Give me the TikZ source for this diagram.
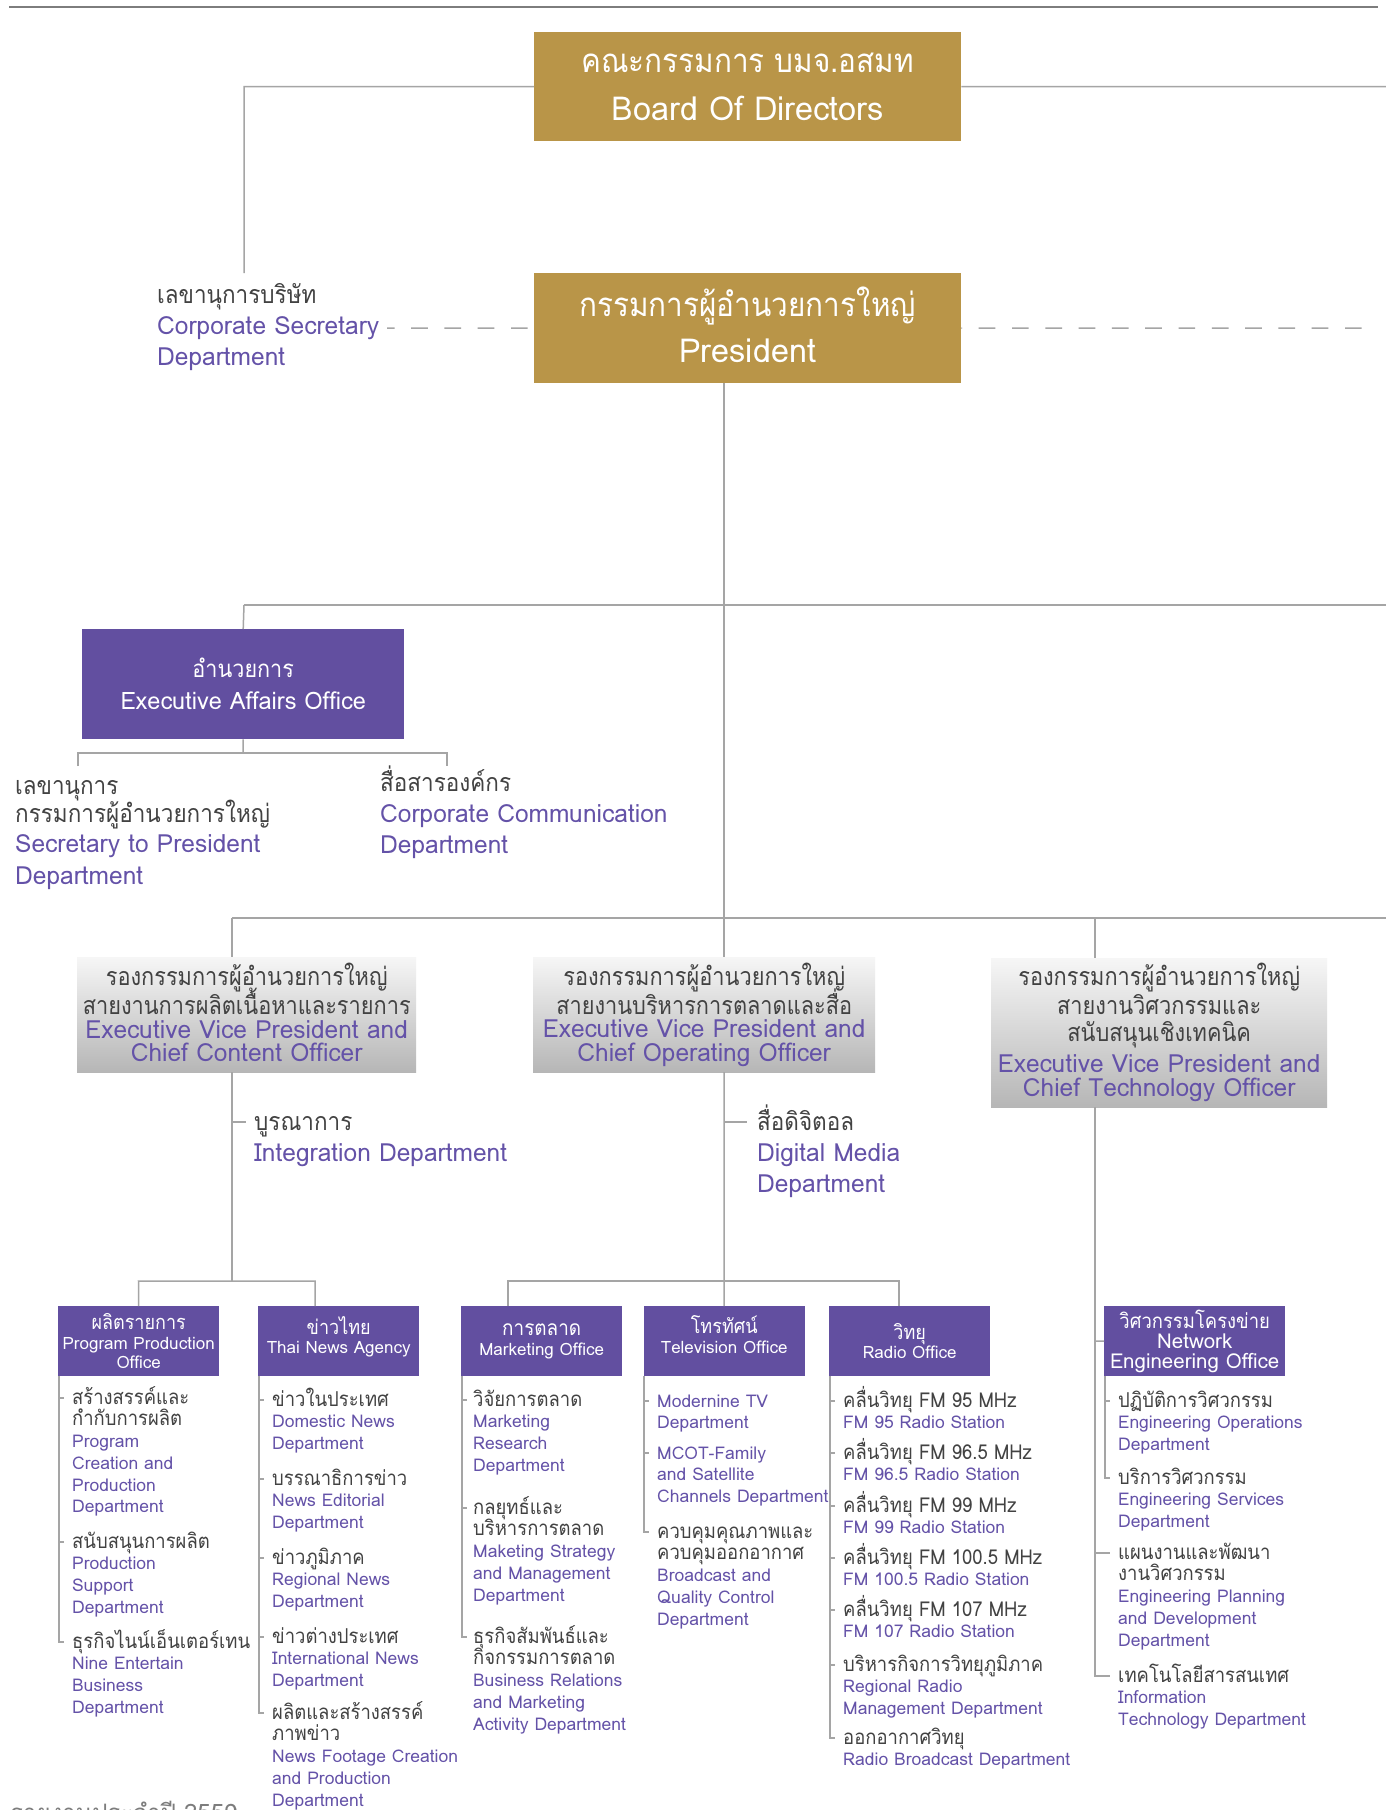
\documentclass[tikz,border=0pt]{standalone}
\usepackage{fontspec}
\newfontfamily\thf[Script=Thai]{Loma}
\newfontfamily\thb[Script=Thai,FakeStretch=0.9]{Loma}
\newfontfamily\thc[Script=Thai,FakeStretch=0.9]{Loma}
\newfontfamily\thv[Script=Thai,FakeStretch=0.87]{Loma}
\newfontfamily\enc[Script=Thai,FakeStretch=0.98]{Loma}
\definecolor{gold}{RGB}{185,149,72}
\definecolor{purp}{RGB}{98,79,160}
\definecolor{ptxt}{RGB}{100,82,168}
\definecolor{gtxt}{RGB}{66,66,66}
\definecolor{lgray}{RGB}{165,165,165}
\definecolor{tgray}{RGB}{125,125,125}
\definecolor{evptop}{RGB}{246,246,246}
\definecolor{evpbot}{RGB}{182,182,182}
\newcommand\tight{\lineskiplimit=-100pt\lineskip=0pt\relax}
\newcommand\Tb[1]{{\thb\fontsize{20.5}{21.7}\selectfont\color{gtxt}#1}}
\newcommand\En[1]{{\color{ptxt}#1}}
\newcommand\Ec[1]{{\enc\color{ptxt}#1}}
\newcommand\Tg[1]{{\color{gtxt}#1}}
\newcommand\dep[1]{\rule[-#1]{0pt}{#1}}
\newcommand\itm[4]{\node[itm] (#1) at (#2,#3) {\rule{0pt}{24pt}#4};}
\newcommand\bigtxt[4]{\node[bigt] (#1) at (#2,#3) {\rule{0pt}{30pt}#4};}
\newcommand\lst[3]{\draw[conn] (#1,1376) -- (#1,#3) -- ++(5,0);
  \foreach \yy in {#2}{\draw[conn] (#1,\yy) -- ++(5,0);}}
\begin{document}
\begin{tikzpicture}[x=1pt,y=-1pt,
  conn/.style={draw=lgray,line width=1.5pt},
  topline/.style={draw=tgray,line width=2pt},
  dashline/.style={dash pattern=on 16.7pt off 16.6pt},
  gbox/.style={fill=gold,text=white,inner sep=0pt,anchor=north west,align=center},
  pbox/.style={fill=purp,text=white,inner sep=0pt,anchor=north west,align=center},
  evp/.style={top color=evptop,bottom color=evpbot,inner sep=0pt,anchor=north west,align=center,
    font={\thv\tight\fontsize{25}{23.5}\selectfont}},
  itm/.style={anchor=north west,inner sep=0pt,align=left,yshift=18pt,
    font={\thf\tight\fontsize{17.5}{21.7}\selectfont}},
  bigt/.style={anchor=north west,inner sep=0pt,align=left,yshift=22pt,
    font={\thc\tight\fontsize{25}{31}\selectfont}},
  sbox/.style={pbox,minimum width=161pt,minimum height=70pt,
    font={\thf\tight\fontsize{17}{19.5}\selectfont}}]
\fill[white] (0,0) rectangle (1386,1810);
\useasboundingbox (0,0) rectangle (1386,1810);

% ---------- boxes ----------
\node[gbox,minimum width=427pt,minimum height=109pt,font={\thc\tight\fontsize{33}{48}\selectfont}] (board) at (534,32)
  {คณะกรรมการ บมจ.อสมท\\{\enc Board Of Directors}};
\node[gbox,minimum width=427pt,minimum height=110pt,font={\thc\tight\fontsize{33}{46}\selectfont}] (pres) at (534,273)
  {กรรมการผู้อำนวยการใหญ่\\{\enc President}\dep{8pt}};
\node[pbox,minimum width=322pt,minimum height=110pt,font={\thc\tight\fontsize{24}{32}\selectfont}] (ea) at (82,629)
  {อำนวยการ\\{\enc Executive Affairs Office}};
\node[evp,minimum width=339pt,minimum height=115pt] (evp1) at (77,957)
  {\Tg{รองกรรมการผู้อำนวยการใหญ่}\\[5.5pt]\Tg{สายงานการผลิตเนื้อหาและรายการ}\\\Ec{Executive Vice President and}\\\Ec{Chief Content Officer}\dep{4pt}};
\node[evp,minimum width=342pt,minimum height=115pt] (evp2) at (533,957)
  {\Tg{รองกรรมการผู้อำนวยการใหญ่}\\[5.5pt]\Tg{สายงานบริหารการตลาดและสื่อ}\\\Ec{Executive Vice President and}\\\Ec{Chief Operating Officer}};
\node[evp,minimum width=336pt,minimum height=149pt,font={\thv\tight\fontsize{25}{24}\selectfont}] (evp3) at (991,958)
  {\Tg{รองกรรมการผู้อำนวยการใหญ่}\\[5pt]\Tg{สายงานวิศวกรรมและ}\\[3pt]\Tg{สนับสนุนเชิงเทคนิค}\\[7pt]\Ec{Executive Vice President and}\\\Ec{Chief Technology Officer}};

\node[sbox] (pp) at (58,1306) {{\thb\fontsize{20}{19.5}\selectfont ผลิตรายการ}\\Program Production\\Office};
\node[sbox] (tna) at (258,1306) {{\thb\fontsize{20}{19.5}\selectfont ข่าวไทย}\\Thai News Agency\dep{12.6pt}};
\node[sbox] (mkt) at (461,1306) {{\thb\fontsize{21}{19.5}\selectfont การตลาด}\\Marketing Office};
\node[sbox] (tv) at (643.5,1306) {{\thb\fontsize{20}{19.5}\selectfont โทรทัศน์}\\Television Office\dep{13pt}};
\node[sbox] (radio) at (829,1306) {{\thb\fontsize{20}{19.5}\selectfont วิทยุ}\\Radio Office};
\node[sbox,minimum width=181pt,font={\thf\tight\fontsize{20.5}{20}\selectfont}] (net) at (1104,1306)
  {{\thb\fontsize{20.5}{20}\selectfont วิศวกรรมโครงข่าย}\\Network\\Engineering Office};

% ---------- free texts ----------
\bigtxt{csec}{157}{295}{\Tg{เลขานุการบริษัท}\\\Ec{Corporate Secretary}\\\Ec{Department}}
\node[bigt,font={\thc\tight\fontsize{25}{28}\selectfont}] (stp) at (15,786)
  {\rule{0pt}{30pt}\Tg{เลขานุการ}\\\Tg{กรรมการผู้อำนวยการใหญ่}\\[2pt]\Ec{Secretary to President}\\[4pt]\Ec{Department}};
\bigtxt{ccom}{380}{783}{\Tg{สื่อสารองค์กร}\\\Ec{Corporate Communication}\\\Ec{Department}}
\bigtxt{integ}{254}{1122}{\Tg{บูรณาการ}\\\Ec{Integration Department}}
\bigtxt{digi}{757}{1122}{\Tg{สื่อดิจิตอล}\\\Ec{Digital Media}\\\Ec{Department}}

% ---------- connectors ----------
\coordinate (tl) at (9,7); \coordinate (tr) at (1378,7);
\draw[topline] (tl) -- (tr);
\coordinate (bL) at (244,86.5); \coordinate (bLd) at (244,273); \coordinate (bR) at (1386,86.5);
\draw[conn] (board.west) -- (bL) -- (bLd);
\draw[conn] (board.east) -- (bR);
\coordinate (dL) at (387,328); \coordinate (dR) at (1362,328);
\draw[conn,dashline,dash phase=27pt] (pres.west) -- (dL);
\draw[conn,dashline,dash phase=16pt] (pres.east) -- (dR);
\coordinate (pS) at (724,383); \coordinate (j2) at (724,918);
\coordinate (hL) at (244,605); \coordinate (hR) at (1386,605);
\draw[conn] (pS) -- (j2);
\draw[conn] (hL) -- (hR);
\draw[conn] (hL) -- (ea.north);
\coordinate (eJ) at (243,753); \coordinate (eL) at (78,753); \coordinate (eR) at (447,753);
\coordinate (eLd) at (78,766); \coordinate (eRd) at (447,766);
\draw[conn] (ea.south) -- (eJ);
\draw[conn] (eLd) -- (eL) -- (eR) -- (eRd);
\coordinate (vL) at (232,918); \coordinate (vR) at (1386,918);
\coordinate (v1) at (232,957); \coordinate (v2) at (724,957);
\coordinate (v3t) at (1095,918); \coordinate (v3) at (1095,958);
\draw[conn] (vL) -- (vR);
\draw[conn] (vL) -- (v1);
\draw[conn] (j2) -- (v2);
\draw[conn] (v3t) -- (v3);
% integration / digital
\coordinate (i0) at (232,1072); \coordinate (i1) at (232,1122); \coordinate (i2) at (246,1122); \coordinate (i3) at (232,1281);
\draw[conn] (i0) -- (i3); \draw[conn] (i1) -- (i2);
\coordinate (g0) at (724,1072); \coordinate (g1) at (724,1122); \coordinate (g2) at (747,1122);
\draw[conn] (g0) -- (tv.north); \draw[conn] (g1) -- (g2);
% bottom junctions
\coordinate (kL) at (138.5,1281); \coordinate (kR) at (315,1281); \coordinate (kRd) at (315,1306);
\draw[conn] (pp.north) -- (kL) -- (kR) -- (kRd);
\coordinate (mL) at (508,1281); \coordinate (mLd) at (508,1306); \coordinate (mR) at (899,1281); \coordinate (mRd) at (899,1306);
\draw[conn] (mLd) -- (mL) -- (mR) -- (mRd);
\coordinate (r0) at (1095,1107); \coordinate (rN) at (1095,1341);
\coordinate (r1) at (1095,1553); \coordinate (r1e) at (1110,1553);
\coordinate (r2) at (1095,1676); \coordinate (r2e) at (1110,1676);
\draw[conn] (r0) -- (r2) -- (r2e);
\draw[conn] (rN) -- (net.west);
\draw[conn] (r1) -- (r1e);

% ---------- lists ----------
\lst{59}{1398,1542}{1642}
\lst{259}{1400,1479,1558,1637}{1713}
\lst{462}{1400,1508}{1637}
\lst{644}{1401,1453}{1532}
\lst{830}{1401,1453,1506,1558,1610,1665}{1738}
\lst{1105}{1401}{1478}

\itm{pp1}{72}{1398}{\Tb{สร้างสรรค์และ}\\\Tb{กำกับการผลิต}\\\En{Program}\\\En{Creation and}\\\En{Production}\\\En{Department}}
\itm{pp2}{72}{1542}{\Tb{สนับสนุนการผลิต}\\\En{Production}\\\En{Support}\\\En{Department}}
\itm{pp3}{72}{1642}{\Tb{ธุรกิจไนน์เอ็นเตอร์เทน}\\\En{Nine Entertain}\\\En{Business}\\\En{Department}}

\itm{tn1}{272}{1400}{\Tb{ข่าวในประเทศ}\\\En{Domestic News}\\\En{Department}}
\itm{tn2}{272}{1479}{\Tb{บรรณาธิการข่าว}\\\En{News Editorial}\\\En{Department}}
\itm{tn3}{272}{1558}{\Tb{ข่าวภูมิภาค}\\\En{Regional News}\\\En{Department}}
\itm{tn4}{272}{1637}{\Tb{ข่าวต่างประเทศ}\\\En{International News}\\\En{Department}}
\itm{tn5}{272}{1713}{\Tb{ผลิตและสร้างสรรค์}\\\Tb{ภาพข่าว}\\\En{News Footage Creation}\\\En{and Production}\\\En{Department}}

\itm{mk1}{473}{1400}{\Tb{วิจัยการตลาด}\\\En{Marketing}\\\En{Research}\\\En{Department}}
\itm{mk2}{473}{1508}{\Tb{กลยุทธ์และ}\\\Tb{บริหารการตลาด}\\\En{Maketing Strategy}\\\En{and Management}\\\En{Department}}
\itm{mk3}{473}{1637}{\Tb{ธุรกิจสัมพันธ์และ}\\\Tb{กิจกรรมการตลาด}\\\En{Business Relations}\\\En{and Marketing}\\\En{Activity Department}}

\itm{tv1}{657}{1401}{\En{Modernine TV}\\\En{Department}}
\itm{tv2}{657}{1453}{\En{MCOT-Family}\\\En{and Satellite}\\\En{Channels Department}}
\itm{tv3}{657}{1532}{\Tb{ควบคุมคุณภาพและ}\\\Tb{ควบคุมออกอากาศ}\\\En{Broadcast and}\\\En{Quality Control}\\\En{Department}}

\itm{ra1}{843}{1401}{\Tb{คลื่นวิทยุ FM 95 MHz}\\\En{FM 95 Radio Station}}
\itm{ra2}{843}{1453}{\Tb{คลื่นวิทยุ FM 96.5 MHz}\\\En{FM 96.5 Radio Station}}
\itm{ra3}{843}{1506}{\Tb{คลื่นวิทยุ FM 99 MHz}\\\En{FM 99 Radio Station}}
\itm{ra4}{843}{1558}{\Tb{คลื่นวิทยุ FM 100.5 MHz}\\\En{FM 100.5 Radio Station}}
\itm{ra5}{843}{1610}{\Tb{คลื่นวิทยุ FM 107 MHz}\\\En{FM 107 Radio Station}}
\itm{ra6}{843}{1665}{\Tb{บริหารกิจการวิทยุภูมิภาค}\\\En{Regional Radio}\\\En{Management Department}}
\itm{ra7}{843}{1738}{\Tb{ออกอากาศวิทยุ}\\\En{Radio Broadcast Department}}

\itm{ne1}{1118}{1401}{\Tb{ปฏิบัติการวิศวกรรม}\\\En{Engineering Operations}\\\En{Department}}
\itm{ne2}{1118}{1478}{\Tb{บริการวิศวกรรม}\\\En{Engineering Services}\\\En{Department}}
\itm{ne3}{1118}{1553}{\Tb{แผนงานและพัฒนา}\\\Tb{งานวิศวกรรม}\\\En{Engineering Planning}\\\En{and Development}\\\En{Department}}
\itm{ne4}{1118}{1676}{\Tb{เทคโนโลยีสารสนเทศ}\\\En{Information}\\\En{Technology Department}}

\node[anchor=north west,inner sep=0pt,text=tgray,font={\thf\fontsize{24}{26}\selectfont}] (footer) at (10,1801) {รายงานประจำปี 2559};
\end{tikzpicture}
\end{document}
